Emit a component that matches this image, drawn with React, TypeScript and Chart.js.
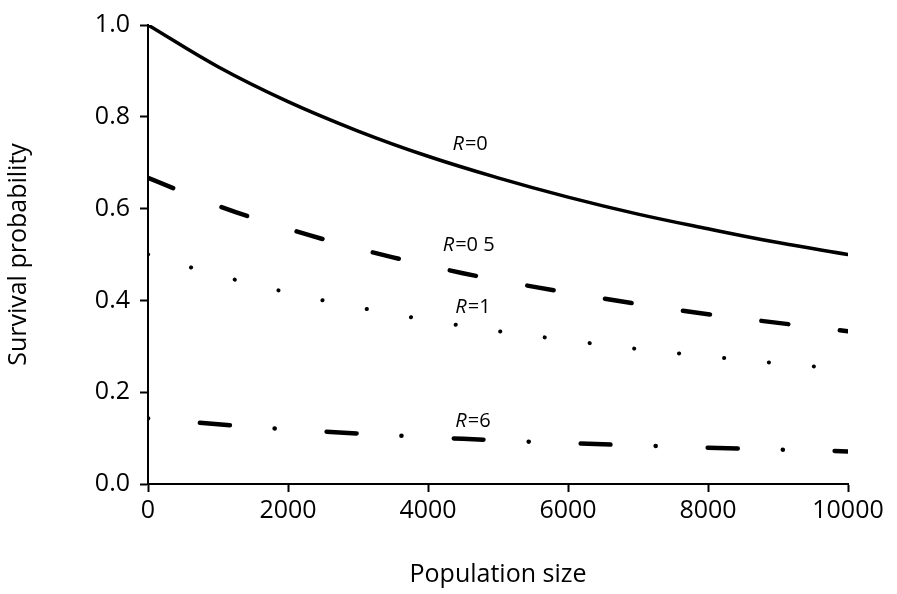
import { useEffect, useRef } from 'react';
import Chart from 'chart.js/auto';

const popSizes = [0, 1000, 2000, 3000, 4000, 5000, 6000, 7000, 8000, 9000, 10000];
const r0 = [1.0, 0.909, 0.833, 0.769, 0.714, 0.667, 0.625, 0.588, 0.556, 0.526, 0.5];
const r05 = [0.667, 0.606, 0.556, 0.513, 0.476, 0.444, 0.417, 0.392, 0.37, 0.351, 0.333];
const r1 = [0.5, 0.455, 0.417, 0.385, 0.357, 0.333, 0.313, 0.294, 0.278, 0.263, 0.25];
const r6 = [0.143, 0.13, 0.119, 0.11, 0.102, 0.095, 0.089, 0.084, 0.079, 0.075, 0.071];

const curveLabels = [
    { value: '0', x: 4350, y: 0.741 },
    { value: '0 5', x: 4210, y: 0.519 },
    { value: '1', x: 4390, y: 0.384 },
    { value: '6', x: 4390, y: 0.136 },
];

const font = "'Open Sans', 'Liberation Sans', sans-serif";

export default function App() {
    const chartRef = useRef<HTMLCanvasElement>(null);

    useEffect(() => {
        document.body.style.margin = '0';
        if (!chartRef.current) return;
        const pts = (ys: number[]) => popSizes.map((x, i) => ({ x, y: ys[i] }));
        const base = { borderColor: '#000', pointRadius: 0, fill: false, tension: 0.4, borderCapStyle: 'round' as const };

        const labelPlugin = {
            id: 'curveLabels',
            afterDatasetsDraw(chart: any) {
                const { ctx, scales } = chart;
                ctx.save();
                ctx.fillStyle = '#000';
                ctx.textBaseline = 'middle';
                curveLabels.forEach(l => {
                    const px = scales.x.getPixelForValue(l.x);
                    const py = scales.y.getPixelForValue(l.y);
                    ctx.font = `italic 20px ${font}`;
                    ctx.fillText('R', px, py);
                    const w = ctx.measureText('R').width;
                    ctx.font = `20px ${font}`;
                    ctx.fillText('=' + l.value, px + w + 1, py);
                });
                ctx.restore();
            },
        };

        const chart = new Chart(chartRef.current, {
            type: 'line',
            data: {
                datasets: [
                    { ...base, data: pts(r0), borderWidth: 3.5 },
                    { ...base, data: pts(r05), borderWidth: 4.5, borderDash: [27, 52] },
                    { ...base, data: pts(r1), borderWidth: 4, borderDash: [0.1, 45] },
                    { ...base, data: pts(r6), borderWidth: 4.5, borderDash: [0.1, 52, 30, 45] },
                ],
            },
            options: {
                animation: false,
                responsive: false,
                layout: { padding: { top: 16, right: 49 } },
                plugins: { legend: { display: false }, tooltip: { enabled: false } },
                scales: {
                    x: {
                        type: 'linear',
                        min: 0,
                        max: 10000,
                        afterFit: (s: any) => { s.height = 110; },
                        grid: { drawOnChartArea: false, tickLength: 8, color: '#000', tickWidth: 2 },
                        border: { color: '#000', width: 2 },
                        ticks: { stepSize: 2000, color: '#000', font: { size: 25, family: font }, padding: 4, callback: (v: any) => String(v) },
                        title: { display: true, text: 'Population size', color: '#000', font: { size: 25, family: font }, padding: { top: 20 } },
                    },
                    y: {
                        min: 0,
                        max: 1,
                        afterFit: (s: any) => { s.width = 148; },
                        grid: { drawOnChartArea: false, tickLength: 8, color: '#000', tickWidth: 2 },
                        border: { color: '#000', width: 2 },
                        ticks: { stepSize: 0.2, color: '#000', font: { size: 25, family: font }, padding: 10, callback: (v: any) => Number(v).toFixed(1) },
                        title: { display: true, text: 'Survival probability', color: '#000', font: { size: 25, family: font }, padding: { bottom: 0 } },
                    },
                },
            },
            plugins: [labelPlugin],
        });
        return () => chart.destroy();
    }, []);

    return <canvas ref={chartRef} width={897} height={594}></canvas>;
}
